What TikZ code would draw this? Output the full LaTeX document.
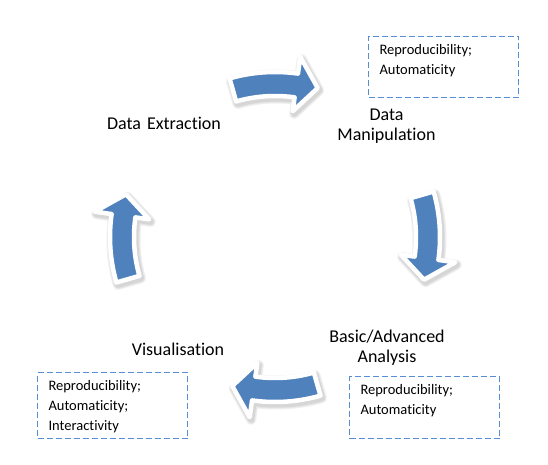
\documentclass[tikz,border=0pt]{standalone}
\usepackage{fontspec}
\setmainfont{Carlito}[Ligatures={NoCommon}]
\definecolor{cycleblue}{RGB}{79,129,189}
\definecolor{notedash}{RGB}{85,142,213}
% curved block arrow of the cycle: #1 tail angle, #2 head base angle, #3 tip angle
\newcommand{\cyclearrow}[3]{(#1:141) arc[start angle=#1,end angle=#2,radius=141] -- (#2:127) -- (#3:155) -- (#2:182) -- (#2:165) arc[start angle=#2,end angle=#1,radius=165] -- cycle}

\begin{document}
\begin{tikzpicture}[x=1pt,y=1pt,font=\fontsize{18}{19.8}\selectfont]
\tikzstyle{step label}=[text width=150pt,align=center,anchor=base,inner sep=0pt]
\tikzstyle{note}=[draw=notedash,dash pattern=on 6pt off 3pt,line width=1pt,anchor=north west,text width=128pt,inner xsep=11pt,inner ysep=7pt,text height=11pt,align=left,font=\fontsize{14.5}{20}\selectfont]
\tikzstyle{cycle arrow}=[fill=cycleblue,draw=white,line width=4.5pt,line join=round]
\fill[white] (0,0) rectangle (548,-465);
\useasboundingbox (0,0) rectangle (548,-465);
% the four arrows, with a soft shadow below each
\begin{scope}[shift={(275,-237)}]
\foreach \a/\b/\t in {106/82/74,16/-8/-16,-74/-98/-106,-164/-188/-196}{
  \begin{scope}[shift={(1.5,-2.5)}]
  \foreach \w/\g in {10/6,8/10,6/16}
    \draw[black!\g,fill=black!\g,line width=\w pt,line join=round] \cyclearrow{\a}{\b}{\t};
  \end{scope}
  \draw[cycle arrow] \cyclearrow{\a}{\b}{\t};
}
\end{scope}
\node[step label] (extraction) at (164,-129.3) {Data Extraction};
\node[step label] (manipulation) at (386.5,-120.7) {Data\\Manipulation};
\node[step label] (analysis) at (387,-342.7) {Basic/Advanced\\Analysis};
\node[step label] (visualisation) at (178,-355) {Visualisation};
\node[note,text depth=36pt] (manipnote) at (368,-36) {Reproducibility;\\Automaticity};
\node[note,text depth=37pt] (analysisnote) at (349,-376) {Reproducibility;\\Automaticity};
\node[note,text depth=41pt] (visualnote) at (37,-372) {Reproducibility;\\Automaticity;\\Interactivity};
\end{tikzpicture}
\end{document}
